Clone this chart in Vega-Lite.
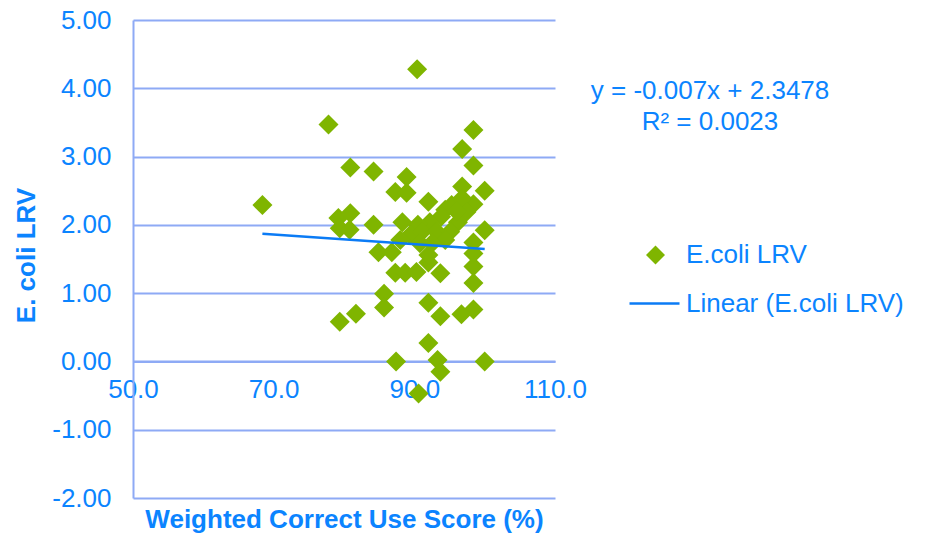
{
  "$schema": "https://vega.github.io/schema/vega-lite/v6.json",
  "width": 422,
  "height": 478,
  "autosize": {"type": "none"},
  "padding": {"left": 133, "top": 20, "right": 373, "bottom": 36},
  "background": "white",
  "config": {"view": {"stroke": null}, "font": "Liberation Sans"},
  "title": {
    "text": ["y = -0.007x + 2.3478", "R² = 0.0023"],
    "anchor": "middle",
    "frame": "group",
    "orient": "top",
    "offset": 0,
    "baseline": "top",
    "dx": 366,
    "dy": 128,
    "lineHeight": 31,
    "fontSize": 26,
    "fontWeight": "normal",
    "color": "#0B84FF"
  },
  "datasets": {
    "points": [
      {"score": 68.4, "lrv": 2.29},
      {"score": 77.8, "lrv": 3.47},
      {"score": 90.4, "lrv": 4.28},
      {"score": 80.9, "lrv": 2.84},
      {"score": 84.2, "lrv": 2.78},
      {"score": 79.2, "lrv": 2.10},
      {"score": 80.9, "lrv": 2.17},
      {"score": 79.4, "lrv": 1.95},
      {"score": 80.8, "lrv": 1.93},
      {"score": 84.2, "lrv": 2.00},
      {"score": 84.9, "lrv": 1.60},
      {"score": 86.8, "lrv": 1.60},
      {"score": 87.3, "lrv": 1.30},
      {"score": 88.7, "lrv": 1.30},
      {"score": 85.7, "lrv": 0.99},
      {"score": 85.7, "lrv": 0.79},
      {"score": 81.7, "lrv": 0.70},
      {"score": 79.4, "lrv": 0.58},
      {"score": 87.4, "lrv": 0.00},
      {"score": 88.9, "lrv": 2.70},
      {"score": 87.3, "lrv": 2.48},
      {"score": 88.9, "lrv": 2.47},
      {"score": 98.4, "lrv": 3.39},
      {"score": 96.8, "lrv": 3.11},
      {"score": 98.4, "lrv": 2.87},
      {"score": 96.8, "lrv": 2.56},
      {"score": 100.0, "lrv": 2.50},
      {"score": 98.4, "lrv": 2.30},
      {"score": 100.0, "lrv": 1.92},
      {"score": 98.4, "lrv": 1.74},
      {"score": 98.4, "lrv": 1.58},
      {"score": 98.4, "lrv": 1.39},
      {"score": 98.4, "lrv": 1.15},
      {"score": 98.4, "lrv": 0.76},
      {"score": 96.7, "lrv": 0.69},
      {"score": 100.0, "lrv": 0.00},
      {"score": 92.0, "lrv": 0.86},
      {"score": 93.7, "lrv": 0.66},
      {"score": 92.0, "lrv": 0.27},
      {"score": 93.3, "lrv": 0.02},
      {"score": 93.7, "lrv": -0.15},
      {"score": 90.6, "lrv": -0.47},
      {"score": 90.3, "lrv": 1.31},
      {"score": 93.7, "lrv": 1.29},
      {"score": 92.0, "lrv": 1.45},
      {"score": 92.0, "lrv": 2.34},
      {"score": 94.4, "lrv": 2.22},
      {"score": 95.3, "lrv": 2.29},
      {"score": 96.8, "lrv": 2.39},
      {"score": 97.4, "lrv": 2.19},
      {"score": 96.2, "lrv": 2.04},
      {"score": 96.0, "lrv": 2.20},
      {"score": 93.8, "lrv": 2.12},
      {"score": 92.2, "lrv": 2.04},
      {"score": 90.5, "lrv": 2.00},
      {"score": 88.3, "lrv": 2.04},
      {"score": 89.4, "lrv": 1.85},
      {"score": 91.1, "lrv": 1.90},
      {"score": 93.2, "lrv": 1.90},
      {"score": 95.1, "lrv": 1.90},
      {"score": 94.4, "lrv": 1.78},
      {"score": 90.8, "lrv": 1.73},
      {"score": 92.5, "lrv": 1.73},
      {"score": 88.0, "lrv": 1.78},
      {"score": 92.0, "lrv": 1.56}
    ],
    "trend": [
      {"score": 68.4, "lrv": 1.869},
      {"score": 100.0, "lrv": 1.648}
    ]
  },
  "layer": [
    {
      "data": {"name": "points"},
      "mark": {"type": "point", "shape": "diamond", "filled": true, "size": 400, "opacity": 1},
      "encoding": {
        "x": {
          "field": "score",
          "type": "quantitative",
          "scale": {"domain": [50, 110], "nice": false, "zero": false},
          "axis": {
            "title": "Weighted Correct Use Score (%)",
            "values": [50, 70, 90, 110],
            "format": ".1f",
            "grid": false,
            "ticks": false,
            "tickSize": 0,
            "offset": -136.57,
            "domainColor": "#8EAAF5",
            "domainWidth": 2,
            "labelFontSize": 26,
            "labelColor": "#0B84FF",
            "labelPadding": 15,
            "labelFlush": false,
            "labelOverlap": false,
            "titleFontSize": 26,
            "titleFontWeight": "bold",
            "titleColor": "#0B84FF",
            "titleY": 157.6,
            "titleBaseline": "middle"
          }
        },
        "y": {
          "field": "lrv",
          "type": "quantitative",
          "scale": {"domain": [-2, 5], "nice": false, "zero": false},
          "axis": {
            "title": "E. coli LRV",
            "values": [-2, -1, 0, 1, 2, 3, 4, 5],
            "labelExpr": "datum.value < 0 ? '-' + format(-datum.value, '.2f') : format(datum.value, '.2f')",
            "grid": true,
            "gridColor": "#8EAAF5",
            "gridWidth": 2,
            "ticks": false,
            "tickSize": 0,
            "domainColor": "#8EAAF5",
            "domainWidth": 2,
            "labelFontSize": 26,
            "labelColor": "#0B84FF",
            "labelPadding": 22,
            "titleFontSize": 26,
            "titleFontWeight": "bold",
            "titleColor": "#0B84FF",
            "titleX": -107,
            "titleY": 235,
            "titleBaseline": "middle"
          }
        },
        "fill": {
          "datum": "E.coli LRV",
          "type": "nominal",
          "scale": {"domain": ["E.coli LRV"], "range": ["#7FB500"]},
          "legend": {
            "title": null,
            "orient": "none",
            "legendX": 509.5,
            "legendY": 222,
            "direction": "vertical",
            "padding": 0,
            "symbolType": "diamond",
            "symbolSize": 360,
            "symbolStrokeWidth": 0,
            "symbolOpacity": 1,
            "labelFontSize": 26,
            "labelColor": "#0B84FF",
            "labelOffset": 17.5,
            "labelLimit": 400
          }
        }
      }
    },
    {
      "data": {"name": "trend"},
      "mark": {"type": "line", "strokeWidth": 2.5},
      "encoding": {
        "x": {"field": "score", "type": "quantitative"},
        "y": {"field": "lrv", "type": "quantitative"},
        "stroke": {
          "datum": "Linear (E.coli LRV)",
          "type": "nominal",
          "scale": {"domain": ["Linear (E.coli LRV)"], "range": ["#0B7BF5"]},
          "legend": {
            "title": null,
            "orient": "none",
            "legendX": 495,
            "legendY": 257,
            "direction": "vertical",
            "padding": 0,
            "symbolType": "stroke",
            "symbolSize": 2500,
            "symbolStrokeWidth": 2.5,
            "labelFontSize": 26,
            "labelColor": "#0B84FF",
            "labelOffset": 5,
            "labelLimit": 400
          }
        }
      }
    }
  ]
}
